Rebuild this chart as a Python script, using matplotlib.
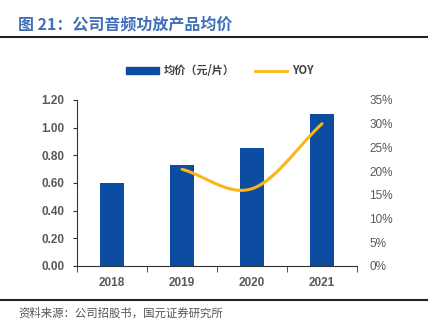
import matplotlib.pyplot as plt
import numpy as np
from matplotlib.lines import Line2D
from matplotlib.patches import Patch

plt.rcParams['font.family'] = ['Liberation Sans', 'Noto Sans CJK SC', 'DejaVu Sans']

# 数据
years = ['2018', '2019', '2020', '2021']
price = [0.60, 0.73, 0.85, 1.10]
yoy_years = ['2019', '2020', '2021']
yoy = [0.204, 0.163, 0.30]

bar_color = '#0c4da2'
line_color = '#fbb514'
tick_color = '#595959'


def smooth(xs, ys, n=60):
    # Catmull-Rom 平滑，模拟 Excel 平滑线
    xs = np.asarray(xs, float)
    ys = np.asarray(ys, float)
    px = np.concatenate([[2 * xs[0] - xs[1]], xs, [2 * xs[-1] - xs[-2]]])
    py = np.concatenate([[2 * ys[0] - ys[1]], ys, [2 * ys[-1] - ys[-2]]])
    ox, oy = [], []
    for i in range(1, len(px) - 2):
        t = np.linspace(0, 1, n)
        for p, out in ((px, ox), (py, oy)):
            p0, p1, p2, p3 = p[i - 1], p[i], p[i + 1], p[i + 2]
            out.extend(0.5 * (2 * p1 + (-p0 + p2) * t
                              + (2 * p0 - 5 * p1 + 4 * p2 - p3) * t ** 2
                              + (-p0 + 3 * p1 - 3 * p2 + p3) * t ** 3))
    return np.array(ox), np.array(oy)


fig = plt.figure(figsize=(4.38, 3.29), dpi=100)
ax = fig.add_axes([77 / 438, 1 - 266 / 329, 280 / 438, 166 / 329])

x = np.arange(len(years))
ax.bar(x, price, width=0.33, color=bar_color, zorder=2)
ax.set_xlim(-0.5, len(years) - 0.5)
ax.set_ylim(0, 1.2)
ax.set_yticks(np.arange(0, 1.21, 0.2))
ax.set_yticklabels([f'{v:.2f}' for v in np.arange(0, 1.21, 0.2)])
ax.set_xticks(x)
ax.set_xticklabels(years)
ax.set_xticks(np.arange(-0.5, len(years), 1), minor=True)
ax.tick_params(axis='x', which='major', length=0, pad=8)
ax.tick_params(axis='x', which='minor', length=4, direction='out', color='#333333')
ax.tick_params(axis='y', length=3, direction='out', color='#333333', pad=6)
for lab in ax.get_xticklabels() + ax.get_yticklabels():
    lab.set_fontsize(8.5)
    lab.set_fontweight('bold')
    lab.set_color(tick_color)
ax.spines['top'].set_visible(False)
ax.spines['right'].set_visible(False)
ax.spines['left'].set_color('#333333')
ax.spines['bottom'].set_color('#333333')

ax2 = ax.twinx()
xi = [years.index(y) for y in yoy_years]
sx, sy = smooth(xi, yoy)
ax2.plot(sx, sy, color=line_color, lw=2.2, solid_capstyle='round', zorder=3)
ax2.set_ylim(0, 0.35)
ax2.set_yticks(np.arange(0, 0.351, 0.05))
ax2.set_yticklabels([f'{int(round(v * 100))}%' for v in np.arange(0, 0.351, 0.05)])
ax2.tick_params(axis='y', length=0, pad=9)
for lab in ax2.get_yticklabels():
    lab.set_fontsize(8.5)
    lab.set_color(tick_color)
for s in ax2.spines.values():
    s.set_visible(False)

# 图例
handles = [Patch(color=bar_color), Line2D([0], [0], color=line_color, lw=2)]
fig.legend(handles, ['均价（元/片）', 'YOY'], loc='center', bbox_to_anchor=(220 / 438, 1 - 71 / 329),
           ncol=2, frameon=False, handlelength=2.9, handleheight=0.55, columnspacing=1.8,
           handletextpad=0.45,
           prop={'size': 8, 'family': ['Noto Sans CJK SC', 'DejaVu Sans'], 'weight': 'bold'},
           labelcolor='#404040')

# 标题和来源
fig.text(18 / 438, 1 - 24 / 329, '图 21：公司音频功放产品均价', fontsize=11.5, fontweight='bold',
         color='#3f6fb8', va='center', family=['Noto Sans CJK SC', 'DejaVu Sans'])
fig.add_artist(Line2D([0, 427 / 438], [1 - 37 / 329] * 2, color='#222222', lw=1.5))
fig.add_artist(Line2D([0, 427 / 438], [1 - 300 / 329] * 2, color='#222222', lw=1.5))
fig.text(18 / 438, 1 - 313 / 329, '资料来源：公司招股书，国元证券研究所', fontsize=8.2,
         color='#555555', va='center', family=['Noto Sans CJK SC', 'DejaVu Sans'])

fig.savefig('out.png', dpi=100)
